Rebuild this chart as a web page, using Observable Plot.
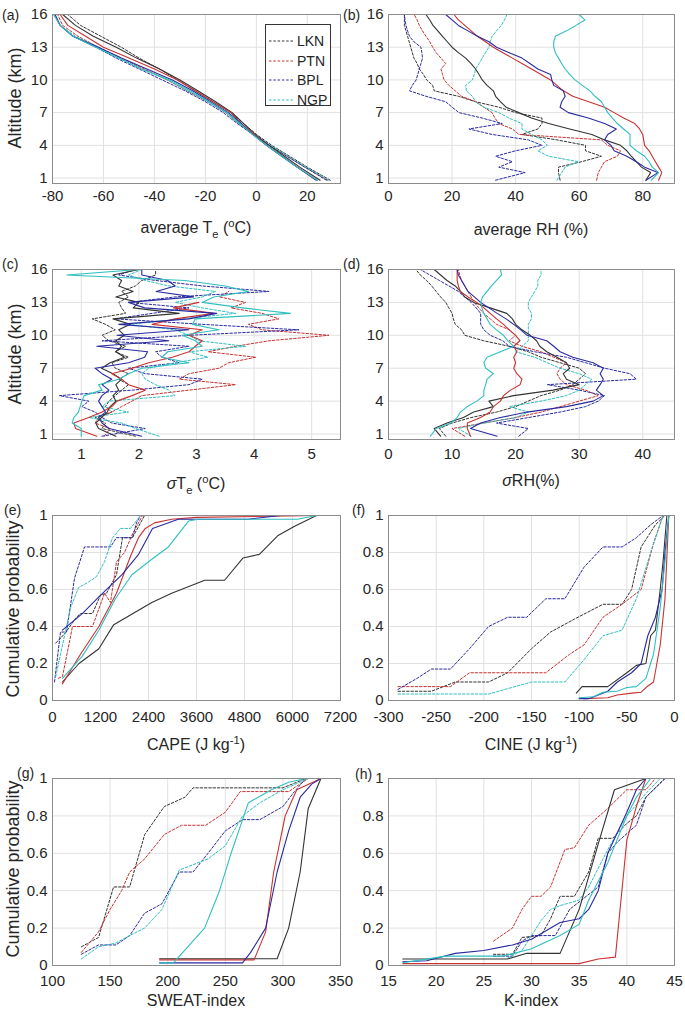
<!DOCTYPE html>
<html><head><meta charset="utf-8">
<script src="https://cdn.jsdelivr.net/npm/d3@7"></script>
<script src="https://cdn.jsdelivr.net/npm/@observablehq/plot@0.6"></script>
<style>
body{margin:0;background:#fff;font-family:"Liberation Sans",Arial,sans-serif;}
#root{position:relative;width:685px;height:1015px;overflow:hidden;background:#fff;}
.pl{position:absolute;}
.txt{position:absolute;color:#262626;white-space:nowrap;line-height:1;}
.ttl{font-size:16px;transform:translate(-50%,-50%);}
.ylab{font-size:18px;transform:translate(-50%,-50%) rotate(-90deg);}
.plab{font-size:14px;transform:translateY(-50%);}
sub,sup{font-size:70%;}
</style></head><body><div id="root"></div>
<script>
// ---------- categories / styles ----------
const stations = ["LKN","PTN","BPL","NGP"];
const stationColors = ["#333333","#c83232","#2a2aa0","#30bfc0"];

// ---------- (a) average Te profiles ----------
const altA = [0.8,2,3,4,5,6,7,8,9,10,11,12,13,14,15,16];
const aLKNsolid = [25,17,11,5,-0.5,-5,-9.5,-16,-23,-30,-38,-47,-55,-64,-71,-76];
const aPTNsolid = [24,16,10,4,-1,-6,-10,-17,-24,-31,-40,-50,-60,-67,-74,-77];
const aBPLsolid = [23.5,16,10,4,-1.5,-6,-11,-18,-25,-33,-43,-53,-62,-72,-77,-79];
const aNGPsolid = [24,16,10,4,-1.5,-6.5,-11.5,-18.5,-26,-34,-45,-54,-63,-72,-77,-79.5];
const aLKNdash = [29,20,13,6,0,-5,-10,-17,-24,-31,-38,-46,-53,-61,-69,-74];
const aPTNdash = [28,19,12,5,-1,-7,-12,-19,-27,-35,-44,-53,-62,-70,-76,-78];
const aBPLdash = [27.5,19,12,5,-1.5,-7.5,-13,-20,-28,-37,-46,-55,-63,-72,-77,-79.5];
const aNGPdash = [28.5,19.5,12.5,5.5,-1,-7,-12,-19,-27,-35,-45,-54,-62,-71,-77,-79];

// common altitude grid for (b),(c),(d)
const altGrid = [0.8,1.5,2,2.5,3,3.5,4,4.5,5,5.5,6,6.5,7,7.5,8,8.5,9,9.5,10,10.5,11,11.5,12,12.5,13,13.5,14,14.5,15,15.5,16];

// ---------- (b) average RH ----------
const bLKNsolid = [81,82.5,79.6,78,76.4,75,73,68,64,57,50.4,45,41,37,35.2,33.7,33,31,29.5,28.5,27.4,26,24.3,22,20,18.5,17,15.5,14,13,11.8];
const bPTNsolid = [85,86,85,84,83,82,80.6,80.3,80,79,77.5,74,71,68,63,58,55,53,51,48,45,42,39,36,33,30.5,28,26,24,22,20.6];
const bBPLsolid = [81,84.8,80.6,78,75,71,70,68,69,71.7,68,62.9,56.6,54,54.5,55.6,55,52,51.4,51,47,44.5,42,38,34,31.6,28,25,22,20,18];
const bNGPsolid = [82.7,85,83,82,80.6,78,76,76,76,74,72,70.5,69,68,67,65,63.4,61,58.7,57,55.6,54.5,53.5,52.5,52,52,52.5,56,59,61.8,60];
const bLKNdash = [54,53.5,53.5,60.8,67,62,62,53,42,47,48.3,48.3,40,34.7,27.4,22,14.4,13.9,12,11,9.7,9,8,7.5,7,6.5,6,5.5,5,5,5];
const bPTNdash = [65.5,66,67,68,72,73,69,67,41,39,34.7,33.5,32.6,30,27.4,23,21,19,17.5,17,16.5,18,16.5,15,13.9,13,11.8,10.7,9.7,9,8.1];
const bBPLdash = [33.7,43,34.7,39,33.7,40,48.3,44,32.6,25.3,35.8,29.5,22.2,20,18,11.8,6.6,7.5,8.7,9.2,9.7,10.2,10.7,10.5,10.2,8,6.6,6,5.5,5.2,5];
const bNGPdash = [53,54.5,55.6,59.7,50.4,47,50,48.3,45,42,42,37.9,34.7,30,27.4,26.4,24.5,24.3,26.4,27,27.4,28.5,29.5,30.5,31.6,32,32.6,34,35.5,36.5,37.3];

// ---------- (c) sigma Te ----------
const cLKNsolid = [1.6,1.3,1.25,1.35,1.45,1.5,1.6,1.55,1.65,1.6,1.7,1.55,1.35,1.5,1.75,1.6,1.7,1.6,1.75,1.65,1.85,1.55,2.7,1.9,2.0,1.6,1.9,1.65,1.7,1.55,2.0];
const cPTNsolid = [1.27,0.9,0.87,1.13,1.36,1.53,1.62,1.88,2.11,1.82,1.7,1.53,1.88,2.17,2.58,2.87,2.98,3.1,2.87,3.1,2.23,2.63,3.3,2.6,3.04,null,null,null,null,null,null];
const cBPLsolid = [2.05,1.48,1.36,1.3,1.42,1.36,1.3,1.36,1.48,1.36,1.53,1.36,1.24,1.82,2.1,2.15,1.27,2.52,1.62,2.87,1.65,2.87,3.35,2.1,1.82,2.95,2.3,2.63,2.5,2.05,2.05];
const cNGPsolid = [1.0,1.0,0.84,0.87,0.95,0.98,1.01,1.05,1.36,1.3,1.65,1.82,2.05,2.87,2.4,2.5,3.1,2.98,2.75,3.39,2.93,2.98,4.63,3.8,3.1,3.3,3.9,3.5,2.8,0.75,2.0];
const cLKNdash = [1.94,1.36,1.42,1.24,1.53,1.42,1.48,1.59,1.7,1.82,1.65,1.82,1.59,1.53,1.82,1.59,1.77,1.48,1.36,1.59,1.42,1.19,1.77,1.7,1.65,1.82,1.7,1.94,2.05,2.29,2.29];
const cPTNdash = [1.4,1.5,1.24,1.3,1.53,1.7,1.88,2.05,2.87,3.68,2.7,2.87,3.39,3.56,4.03,3.2,3.68,4.26,5.3,4.14,3.9,4.43,4.14,3.6,3.85,3.4,3.56,null,null,null,null];
const cBPLdash = [1.36,2.11,1.53,1.36,1.24,1.01,1.13,0.62,1.88,2.87,3.1,2.11,1.82,2.7,2.4,2.29,2.87,1.36,2.87,4.78,3.1,1.59,2.23,2.87,1.82,2.63,4.26,3.1,2.29,1.65,1.94];
const cNGPdash = [2.35,1.94,1.7,1.13,1.82,1.36,1.48,2.63,2.52,2.29,2.11,2.05,2.17,2.63,3.2,2.87,3.85,3.04,2.87,2.63,1.82,2.75,3.68,3.1,2.63,3.1,3.33,2.52,2.11,1.82,2.05];

// ---------- (d) sigma RH ----------
const dLKNsolid = [8.2,7.2,9.2,11.8,13.4,16.5,15.8,19.7,25.9,30,28,27.5,28.5,28,26.5,24.9,23.8,23.3,22.3,21,20,19.5,18.6,16,13.4,12,11.3,10.5,9.2,8.2,7.2];
const dPTNsolid = [12.9,12.4,12.4,14.5,16,16.5,17.6,18.1,19.2,20.7,21,20.2,19.7,20,19.7,20.2,19.7,20.7,20,19,18.1,17,16,15,13.9,12.5,11.3,11,10.8,10.8,10.8];
const dBPLsolid = [17.1,12.9,14.5,17.6,21.8,28,32.2,33.8,32.7,33.3,33.8,33.3,33.8,32.2,29,27,26,24.9,21.8,20.8,19.7,18.5,17.1,15.8,14.5,13.5,12.5,12,11.5,11,10.8];
const dNGPsolid = [6.6,7.5,9.8,10.8,11.3,12.4,13.9,15,15,15.3,15.5,16.5,15.3,15,15.5,17.6,19.7,18.8,18.1,17,16,15.5,15,14.7,14.5,14.8,15.5,16.2,17,17.8,17.6];
const dLKNdash = [9,8,10,13,17,20,22,24,27,29,30,31,30,27,24,22,19,15,12,11.5,10.5,10.2,10,9.5,9,8.2,7.5,6.8,6,5,4.3];
const dPTNdash = [12,10,15,20,24,27,30,33,31,28,27,26.5,27,28,26,24,21,19,20,19,17,16,15,14.2,13.5,13,12.5,12,11.5,11.2,11];
const dBPLdash = [20.5,22,17,22,27,31,33,34,30,25,39,38,34,31,28,23,19,18,16,15,14.5,14.5,14.5,13.8,13,12,11,9.5,8,6.5,5];
const dNGPdash = [13,11,15,20,22,19,24,28,30,31,32,30,27,25,23,20,21,22,22,22,22,22.5,22.5,22,22,22.5,23,23.5,23.5,24,24];

// ---------- (e) CAPE cumulative probability: [CAPE, P] ----------
const eLKNsolid = [[248,0.10],[662,0.2],[1159,0.28],[1531,0.41],[2483,0.53],[2979,0.58],[3807,0.65],[4303,0.65],[4759,0.77],[5172,0.79],[5628,0.89],[6041,0.94],[6600,1.0]];
const ePTNsolid = [[248,0.09],[700,0.25],[1160,0.40],[1600,0.58],[1950,0.78],[2150,0.88],[2320,0.93],[2550,0.96],[2980,0.98],[3600,0.99],[6600,1.0]];
const eBPLsolid = [[248,0.38],[745,0.47],[1159,0.56],[1738,0.68],[2152,0.79],[2500,0.93],[3145,0.98],[4883,0.98],[5710,1.0],[6600,1.0]];
const eNGPsolid = [[248,0.12],[745,0.24],[1159,0.38],[1572,0.55],[1986,0.68],[2400,0.75],[2897,0.83],[3400,0.97],[3641,0.98],[6124,0.98],[6600,1.0]];
const eLKNdash = [[80,0.31],[300,0.36],[600,0.45],[700,0.47],[1000,0.47],[1200,0.57],[1350,0.58],[1600,0.68],[1750,0.88],[2000,0.88],[2300,1.0]];
const ePTNdash = [[150,0.12],[250,0.13],[500,0.4],[900,0.4],[1000,0.4],[1300,0.58],[1450,0.53],[1600,0.75],[1800,0.8],[2000,0.9],[2250,1.0]];
const eBPLdash = [[50,0.1],[200,0.37],[350,0.37],[550,0.66],[800,0.83],[1000,0.83],[1450,0.83],[1600,0.88],[2000,0.88],[2100,0.96],[2200,1.0]];
const eNGPdash = [[80,0.13],[250,0.3],[450,0.5],[650,0.61],[900,0.64],[1100,0.67],[1300,0.75],[1500,0.88],[1700,0.93],[1950,0.93],[2200,1.0]];

// ---------- (f) CINE ----------
const fLKNsolid = [[-103,0.04],[-97,0.075],[-70,0.075],[-50,0.15],[-40,0.19],[-30,0.2],[-25,0.35],[-20,0.38],[-15,0.6],[-12,0.75],[-8,1.0]];
const fPTNsolid = [[-95,0.01],[-70,0.015],[-60,0.03],[-45,0.04],[-35,0.045],[-30,0.07],[-22,0.1],[-15,0.3],[-10,0.55],[-6,1.0]];
const fBPLsolid = [[-100,0.01],[-90,0.01],[-70,0.05],[-60,0.1],[-45,0.15],[-35,0.2],[-28,0.35],[-20,0.45],[-13,0.6],[-10,0.8],[-6,1.0]];
const fNGPsolid = [[-100,0.015],[-85,0.02],[-75,0.045],[-60,0.05],[-50,0.07],[-40,0.075],[-30,0.12],[-22,0.25],[-15,0.5],[-10,0.75],[-6,1.0]];
const fLKNdash = [[-290,0.05],[-255,0.05],[-230,0.1],[-195,0.1],[-175,0.15],[-150,0.28],[-130,0.37],[-105,0.44],[-75,0.52],[-55,0.52],[-45,0.6],[-35,0.83],[-20,0.95],[-10,1.0]];
const fPTNdash = [[-290,0.075],[-235,0.075],[-215,0.15],[-135,0.15],[-110,0.25],[-95,0.3],[-75,0.45],[-55,0.52],[-35,0.6],[-22,0.85],[-12,1.0]];
const fBPLdash = [[-290,0.06],[-270,0.12],[-255,0.17],[-235,0.17],[-215,0.28],[-195,0.4],[-175,0.45],[-155,0.45],[-135,0.55],[-115,0.55],[-95,0.72],[-75,0.83],[-55,0.83],[-40,0.88],[-25,0.95],[-12,1.0]];
const fNGPdash = [[-290,0.035],[-195,0.035],[-150,0.1],[-115,0.1],[-95,0.22],[-75,0.35],[-55,0.38],[-40,0.55],[-25,0.8],[-12,1.0]];

// ---------- (g) SWEAT-index ----------
const gLKNsolid = [[193,0.036],[295,0.036],[305,0.2],[315,0.5],[322,0.84],[333,1.0]];
const gPTNsolid = [[193,0.03],[275,0.03],[285,0.18],[292,0.5],[302,0.8],[312,0.94],[333,1.0]];
const gBPLsolid = [[193,0.014],[265,0.014],[272,0.07],[285,0.2],[295,0.5],[305,0.72],[315,0.9],[325,0.97],[333,1.0]];
const gNGPsolid = [[193,0.014],[205,0.014],[232,0.2],[245,0.4],[255,0.6],[270,0.87],[290,0.94],[305,0.98],[320,1.0]];
const gLKNdash = [[125,0.1],[140,0.15],[153,0.42],[167,0.42],[180,0.7],[197,0.85],[215,0.9],[222,0.95],[300,0.95],[320,1.0]];
const gPTNdash = [[125,0.07],[140,0.18],[150,0.3],[160,0.4],[167,0.5],[180,0.57],[197,0.7],[212,0.75],[233,0.75],[250,0.82],[263,0.93],[305,0.93],[322,1.0]];
const gBPLdash = [[125,0.06],[140,0.11],[155,0.11],[167,0.16],[180,0.28],[195,0.33],[210,0.5],[222,0.5],[235,0.6],[250,0.72],[265,0.78],[280,0.78],[300,0.85],[310,0.93],[320,1.0]];
const gNGPdash = [[125,0.035],[140,0.1],[155,0.12],[167,0.16],[180,0.2],[195,0.3],[210,0.51],[235,0.57],[250,0.64],[265,0.8],[280,0.87],[300,0.94],[322,1.0]];

// ---------- (h) K-index ----------
const hLKNsolid = [[16.5,0.035],[27.5,0.035],[29.5,0.065],[33,0.065],[35,0.3],[37,0.65],[38.7,0.94],[42,1.0]];
const hPTNsolid = [[16.5,0.01],[35,0.01],[37,0.035],[38.8,0.045],[40,0.67],[41,0.85],[42,1.0]];
const hBPLsolid = [[16.5,0.02],[19,0.025],[22,0.065],[25,0.08],[28,0.11],[30,0.14],[33,0.23],[35,0.25],[36,0.3],[37,0.4],[38,0.6],[40,0.82],[41,0.94],[42,1.0]];
const hNGPsolid = [[16.5,0.015],[21,0.05],[27,0.05],[30,0.09],[33,0.16],[35,0.22],[36,0.35],[38,0.55],[40,0.8],[41,0.9],[42.5,1.0]];
const hLKNdash = [[26,0.06],[28,0.06],[29,0.15],[31,0.16],[32,0.25],[33,0.37],[34.5,0.37],[36,0.5],[37,0.68],[38.5,0.68],[40,0.76],[41,0.8],[42,0.9],[44,1.0]];
const hPTNdash = [[26,0.13],[28,0.2],[29,0.3],[30,0.37],[31,0.37],[32,0.42],[33.5,0.62],[34.5,0.63],[36,0.75],[38,0.84],[40,0.94],[42,0.94],[43,1.0]];
const hBPLdash = [[26,0.05],[28,0.05],[29,0.13],[30,0.16],[31,0.16],[32.5,0.16],[34,0.3],[35,0.34],[37,0.42],[38,0.6],[39,0.66],[41,0.75],[42,0.9],[44,1.0]];
const hNGPdash = [[27.5,0.04],[29,0.08],[30,0.16],[31,0.24],[32,0.3],[33,0.32],[35,0.35],[36,0.42],[38,0.62],[40,0.8],[42,0.92],[43.5,1.0]];

// ---------- tick values ----------
const altTicks = [1,4,7,10,13,16];
const probTicks = [0,0.2,0.4,0.6,0.8,1];
const aTicks = [-80,-60,-40,-20,0,20];
const bTicks = [0,20,40,60,80];
const cTicks = [1,2,3,4,5];
const dTicks = [0,10,20,30,40];
const eTicks = [0,1200,2400,3600,4800,6000,7200];
const fTicks = [-300,-250,-200,-150,-100,-50,0];
const gTicks = [100,150,200,250,300,350];
const hTicks = [15,20,25,30,35,40,45];

// ---------- builders ----------
const root = document.getElementById("root");
function profile(vals, alts){ const out=[]; vals.forEach((v,i)=>{ if(v!=null) out.push({x:v,y:alts[i]}); }); return out; }
function pairs(arr){ return arr.map(d=>({x:d[0],y:d[1]})); }
function seriesSet(solid, dash, conv){
  const s=[];
  dash.forEach((d,i)=>s.push({data:conv(d),color:stationColors[i],dash:true}));
  solid.forEach((d,i)=>s.push({data:conv(d),color:stationColors[i],dash:false}));
  return s;
}

function panel(p){
  const mL=48,mR=34,mT=10,mB=36;
  const fw=p.fx1-p.fx0, fh=p.fy1-p.fy0;
  const marks=[
    Plot.gridX(p.xTicks,{stroke:"#e1e1e1",strokeOpacity:1}),
    Plot.gridY(p.yTicks,{stroke:"#e1e1e1",strokeOpacity:1}),
    Plot.axisX(p.xTicks,{tickSize:0,tickPadding:p.pad,label:null,tickFormat:d=>String(d),fontSize:15}),
    Plot.axisY(p.yTicks,{tickSize:0,tickPadding:5,label:null,tickFormat:d=>String(d),fontSize:15}),
  ];
  for(const s of p.series){
    marks.push(Plot.line(s.data,{x:"x",y:"y",stroke:s.color,strokeWidth:s.dash?1:1.1,strokeDasharray:s.dash?"2.5,1.8":null,clip:true}));
  }
  marks.push(Plot.frame({stroke:"#8c8c8c",strokeWidth:1}));
  const svg=Plot.plot({
    width:fw+mL+mR,height:fh+mT+mB,marginLeft:mL,marginRight:mR,marginTop:mT,marginBottom:mB,
    x:{domain:p.xDomain},y:{domain:p.yDomain},
    style:{fontFamily:'"Liberation Sans",Arial,sans-serif',color:"#262626",background:"transparent",overflow:"visible"},
    marks
  });
  const div=document.createElement("div");
  div.className="pl";
  div.style.left=(p.fx0-mL)+"px"; div.style.top=(p.fy0-mT)+"px";
  div.style.width=(fw+mL+mR)+"px";
  div.append(svg); root.append(div);
}
function text(html,cls,x,y){
  const d=document.createElement("div"); d.className="txt "+cls; d.innerHTML=html;
  d.style.left=x+"px"; d.style.top=y+"px"; root.append(d);
}

const pa = (v)=>profile(v,altA), pg=(v)=>profile(v,altGrid);
const L=[52,340], R=[388,674];
const rows=[[14,183],[269,439],[515,700],[778,965]];

panel({fx0:L[0],fx1:L[1],fy0:rows[0][0],fy1:rows[0][1],xDomain:[-80,33],yDomain:[0.5,16],xTicks:aTicks,yTicks:altTicks,pad:7,
  series:seriesSet([aLKNsolid,aPTNsolid,aBPLsolid,aNGPsolid],[aLKNdash,aPTNdash,aBPLdash,aNGPdash],pa)});
panel({fx0:R[0],fx1:R[1],fy0:rows[0][0],fy1:rows[0][1],xDomain:[0,90],yDomain:[0.5,16],xTicks:bTicks,yTicks:altTicks,pad:7,
  series:seriesSet([bLKNsolid,bPTNsolid,bBPLsolid,bNGPsolid],[bLKNdash,bPTNdash,bBPLdash,bNGPdash],pg)});
panel({fx0:L[0],fx1:L[1],fy0:rows[1][0],fy1:rows[1][1],xDomain:[0.5,5.5],yDomain:[0.5,16],xTicks:cTicks,yTicks:altTicks,pad:9,
  series:seriesSet([cLKNsolid,cPTNsolid,cBPLsolid,cNGPsolid],[cLKNdash,cPTNdash,cBPLdash,cNGPdash],pg)});
panel({fx0:R[0],fx1:R[1],fy0:rows[1][0],fy1:rows[1][1],xDomain:[0,45],yDomain:[0.5,16],xTicks:dTicks,yTicks:altTicks,pad:9,
  series:seriesSet([dLKNsolid,dPTNsolid,dBPLsolid,dNGPsolid],[dLKNdash,dPTNdash,dBPLdash,dNGPdash],pg)});
panel({fx0:L[0],fx1:L[1],fy0:rows[2][0],fy1:rows[2][1],xDomain:[0,7200],yDomain:[0,1],xTicks:eTicks,yTicks:probTicks,pad:11,
  series:seriesSet([eLKNsolid,ePTNsolid,eBPLsolid,eNGPsolid],[eLKNdash,ePTNdash,eBPLdash,eNGPdash],pairs)});
panel({fx0:R[0],fx1:R[1],fy0:rows[2][0],fy1:rows[2][1],xDomain:[-300,0],yDomain:[0,1],xTicks:fTicks,yTicks:probTicks,pad:11,
  series:seriesSet([fLKNsolid,fPTNsolid,fBPLsolid,fNGPsolid],[fLKNdash,fPTNdash,fBPLdash,fNGPdash],pairs)});
panel({fx0:L[0],fx1:L[1],fy0:rows[3][0],fy1:rows[3][1],xDomain:[100,350],yDomain:[0,1],xTicks:gTicks,yTicks:probTicks,pad:10,
  series:seriesSet([gLKNsolid,gPTNsolid,gBPLsolid,gNGPsolid],[gLKNdash,gPTNdash,gBPLdash,gNGPdash],pairs)});
panel({fx0:R[0],fx1:R[1],fy0:rows[3][0],fy1:rows[3][1],xDomain:[15,45],yDomain:[0,1],xTicks:hTicks,yTicks:probTicks,pad:10,
  series:seriesSet([hLKNsolid,hPTNsolid,hBPLsolid,hNGPsolid],[hLKNdash,hPTNdash,hBPLdash,hNGPdash],pairs)});

// axis titles
text("average T<sub>e</sub> (<sup>o</sup>C)","ttl",196,229);
text("average RH (%)","ttl",531,230);
text("<i>σ</i>T<sub>e</sub> (<sup>o</sup>C)","ttl",196,485);
text("<i>σ</i>RH(%)","ttl",531,481);
text("CAPE (J kg<sup>-1</sup>)","ttl",196,744);
text("CINE (J kg<sup>-1</sup>)","ttl",531,744);
text("SWEAT-index","ttl",196,1001);
text("K-index","ttl",531,1001);
text("Altitude (km)","ylab",15,98);
text("Altitude (km)","ylab",15,354);
text("Cumulative probability","ylab",13,609);
text("Cumulative probability","ylab",13,869);
// panel labels
text("(a)","plab",2,15); text("(b)","plab",343,15);
text("(c)","plab",2,264); text("(d)","plab",343,264);
text("(e)","plab",4,510); text("(f)","plab",352,510);
text("(g)","plab",17,773); text("(h)","plab",355,774);

// legend (panel a)
const leg=document.createElement("div");
leg.style.cssText="position:absolute;left:265px;top:24px;width:66px;height:82px;border:1px solid #333;background:#fff;box-sizing:border-box;";
stations.forEach((s,i)=>{
  const row=document.createElement("div");
  row.style.cssText=`position:absolute;left:3px;top:${8+i*19.5}px;height:16px;display:flex;align-items:center;font-size:14px;color:#262626;line-height:1;`;
  row.innerHTML=`<svg width="24" height="6" style="margin-right:4px"><line x1="0" y1="3" x2="24" y2="3" stroke="${stationColors[i]}" stroke-width="1" stroke-dasharray="2.5,1.8"/></svg><span>${s}</span>`;
  leg.append(row);
});
root.append(leg);
</script></body></html>
